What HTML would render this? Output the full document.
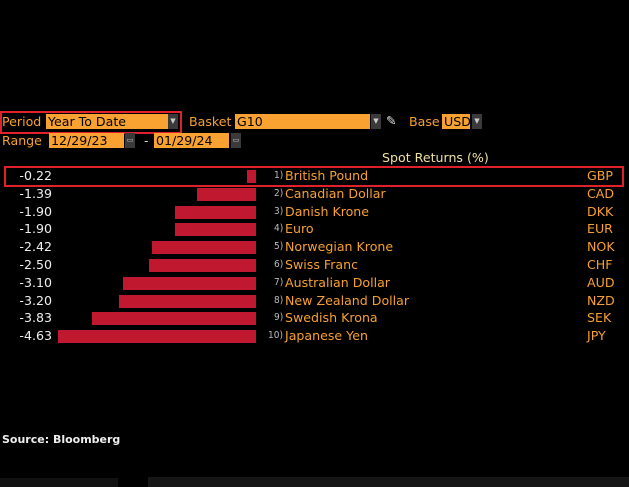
<!DOCTYPE html><html><head><style>
body{margin:0;width:629px;height:487px;background:#000;position:relative;overflow:hidden;font-family:"DejaVu Sans","Liberation Sans",sans-serif;font-size:12.6px;color:#f7a030}
div,span{position:absolute;white-space:nowrap}
.o{background:#f9a231;color:#000;height:15px;line-height:15px;padding-left:2px}
.a{background:#3a3a3a;width:10px;height:15px;color:#ccc;font-size:7px;line-height:15px;text-align:center}
.v{color:#eee;right:577px;text-align:right}
.b{background:#c0182f;height:13px}
.n{color:#bbb;font-size:10px;font-family:"DejaVu Sans Condensed",sans-serif}
</style></head><body>
<div style="left:0;top:111px;width:178px;height:19px;border:2px solid #e0202a"></div>
<div style="left:2px;top:114px">Period</div>
<div class="o" style="left:46px;top:114px;width:120px">Year To Date</div><div class="a" style="left:168px;top:114px">▼</div>
<div style="left:189px;top:114px">Basket</div>
<div class="o" style="left:235px;top:114px;width:133px">G10</div><div class="a" style="left:371px;top:114px">▼</div>
<div style="left:386px;top:113px;color:#ddd">✎</div>
<div style="left:409px;top:114px">Base</div>
<div class="o" style="left:442px;top:114px;width:26px">USD</div><div class="a" style="left:472px;top:114px">▼</div>
<div style="left:2px;top:133px">Range</div>
<div class="o" style="left:49px;top:133px;width:73px">12/29/23</div><div class="a" style="left:125px;top:133px">▭</div>
<div style="left:144px;top:133px;color:#ccc">-</div>
<div class="o" style="left:154px;top:133px;width:73px">01/29/24</div><div class="a" style="left:231px;top:133px">▭</div>
<div style="left:382px;top:150px;color:#f0e0a0">Spot Returns (%)</div>
<div style="left:4px;top:166px;width:616px;height:17px;border:2px solid #e0202a"></div>
<div id="rows"></div>
<div style="left:2px;top:433px;color:#eee;font-weight:bold;font-size:11px;font-family:'DejaVu Sans',sans-serif">Source: Bloomberg</div>
<div style="left:0;top:478px;width:118px;height:9px;background:#111"></div>
<div style="left:148px;top:477px;width:481px;height:10px;background:#161616"></div>
<script>
var d=[[-0.22,"British Pound","GBP"],[-1.39,"Canadian Dollar","CAD"],[-1.90,"Danish Krone","DKK"],[-1.90,"Euro","EUR"],[-2.42,"Norwegian Krone","NOK"],[-2.50,"Swiss Franc","CHF"],[-3.10,"Australian Dollar","AUD"],[-3.20,"New Zealand Dollar","NZD"],[-3.83,"Swedish Krona","SEK"],[-4.63,"Japanese Yen","JPY"]],h="";
d.forEach(function(r,i){var c=176+i*17.8,w=-r[0]*42.8;
h+='<div class="v" style="top:'+(c-8)+'px">'+r[0].toFixed(2)+'</div><div class="b" style="left:'+(256-w)+'px;width:'+w+'px;top:'+(c-6)+'px"></div><div class="n" style="left:'+(i==9?268:274)+'px;top:'+(c-6)+'px">'+(i+1)+')</div><div style="left:285px;top:'+(c-8)+'px">'+r[1]+'</div><div style="left:587px;top:'+(c-8)+'px">'+r[2]+'</div>';});
document.getElementById('rows').outerHTML=h;
</script></body></html>
